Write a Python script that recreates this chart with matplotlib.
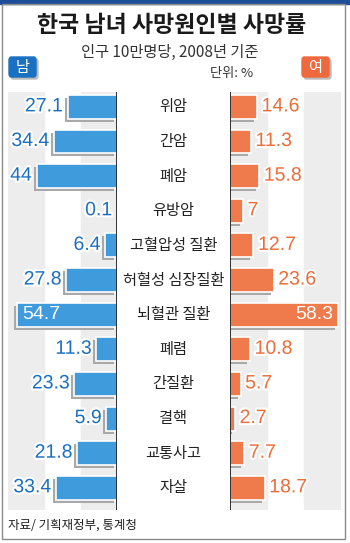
import matplotlib
matplotlib.use("Agg")
import matplotlib.pyplot as plt
import matplotlib.patheffects as pe
from matplotlib.patches import Rectangle, FancyBboxPatch
from matplotlib.transforms import offset_copy, blended_transform_factory

# ---------- data ----------
categories = ['위암', '간암', '폐암', '유방암', '고혈압성 질환', '허혈성 심장질환',
              '뇌혈관 질환', '폐렴', '간질환', '결핵', '교통사고', '자살']
male = [27.1, 34.4, 44, 0.1, 6.4, 27.8, 54.7, 11.3, 23.3, 5.9, 21.8, 33.4]
female = [14.6, 11.3, 15.8, 7, 12.7, 23.6, 58.3, 10.8, 5.7, 2.7, 7.7, 18.7]

plt.rcParams['font.family'] = ['Noto Sans CJK KR', 'DejaVu Sans']
NUM_FONT = ['Liberation Sans Narrow', 'Liberation Sans', 'DejaVu Sans']

BLUE_BAR = '#3f9bdb'
BLUE_TXT = '#1b6fc0'
ORANGE_BAR = '#ef7b4c'
ORANGE_TXT = '#eb6d3a'
STRIPE = '#ededed'
SHADOW = '#a9a9a9'

W, H = 350, 543
fig = plt.figure(figsize=(W / 100, H / 100), dpi=100)

def px(x0, y0, x1, y1):
    # pixel box (top-left origin) -> figure fraction [l, b, w, h]
    return [x0 / W, 1 - y1 / H, (x1 - x0) / W, (y1 - y0) / H]

ax_l = fig.add_axes(px(7.5, 92, 117, 510))
ax_r = fig.add_axes(px(230, 92, 341, 510))

n = len(categories)
rows = list(range(n))
bh = 0.69

for ax, vals, bar_c, txt_c, side in [(ax_l, male, BLUE_BAR, BLUE_TXT, 'L'),
                                     (ax_r, female, ORANGE_BAR, ORANGE_TXT, 'R')]:
    ax.set_xlim(60, 0) if side == 'L' else ax.set_xlim(0, 60)
    ax.set_ylim(n - 1 + 0.64, -0.43)
    ax.axis('off')
    # background stripes
    ax.axvspan(0, 20, color=STRIPE, zorder=0)
    ax.axvspan(40, 60, color=STRIPE, zorder=0)
    # shadows
    sh = offset_copy(ax.transData, fig=fig, x=-3, y=-3, units='dots')
    ax.barh(rows, vals, height=bh, color=SHADOW, transform=sh, zorder=1)
    ax.barh(rows, vals, height=bh, color=bar_c, edgecolor='white', linewidth=1.2, zorder=2)
    for i, v in enumerate(vals):
        if v > 50:
            ax.text(v - 2.5, i, f'{v:g}', color='white', fontsize=14, family=NUM_FONT,
                    ha='left' if side == 'L' else 'right', va='center', zorder=4)
        else:
            ax.text(v + 2.5, i, f'{v:g}', color=txt_c, fontsize=14, family=NUM_FONT,
                    ha='right' if side == 'L' else 'left', va='center', zorder=4,
                    path_effects=[pe.withStroke(linewidth=3, foreground='white')])
    # axis line at zero
    ax.axvline(0, color='#222222', lw=1.3, zorder=3)

# category labels
tr = blended_transform_factory(fig.transFigure, ax_l.transData)
for i, c in enumerate(categories):
    fig.text(173.5 / W, i, c, transform=tr, ha='center', va='center',
             fontsize=11, color='#222222')

# top strip and frame
fig.patches.append(Rectangle((0, 1 - 4 / H), 1, 4 / H, transform=fig.transFigure,
                             color='#1d4f98', zorder=5))
fig.patches.append(Rectangle((2 / W, 1 - 539 / H), 343 / W, 535 / H, transform=fig.transFigure,
                             fill=False, edgecolor='#8a8a8a', lw=1.0, zorder=5))

# titles
fig.text(172 / W, 1 - 26 / H, '한국 남녀 사망원인별 사망률', ha='center', va='center',
         fontsize=16.5, fontweight='bold', color='#1a1a1a')
fig.text(170 / W, 1 - 52 / H, '인구 10만명당, 2008년 기준', ha='center', va='center',
         fontsize=11, color='#333333')
fig.text(232 / W, 1 - 74 / H, '단위: %', ha='center', va='center',
         fontsize=9.5, color='#333333')

# gender boxes
for x0, label, col in [(9, '남', '#1a71c2'), (302, '여', '#ee6a3e')]:
    fig.patches.append(FancyBboxPatch(((x0 + 2) / W, 1 - 79 / H), 27 / W, 20 / H,
                                      boxstyle='round,pad=0,rounding_size=0.006',
                                      transform=fig.transFigure, color='#bbbbbb', zorder=5))
    fig.patches.append(FancyBboxPatch((x0 / W, 1 - 77 / H), 27 / W, 20 / H,
                                      boxstyle='round,pad=0,rounding_size=0.006',
                                      transform=fig.transFigure, color=col, zorder=6))
    fig.text((x0 + 13.5) / W, 1 - 67.5 / H, label, ha='center', va='center',
             fontsize=11, color='white', zorder=7)

# source
fig.text(8 / W, 1 - 525 / H, '자료/ 기획재정부, 통계청', ha='left', va='center',
         fontsize=9, color='#222222')

fig.savefig('out.png', dpi=100)
